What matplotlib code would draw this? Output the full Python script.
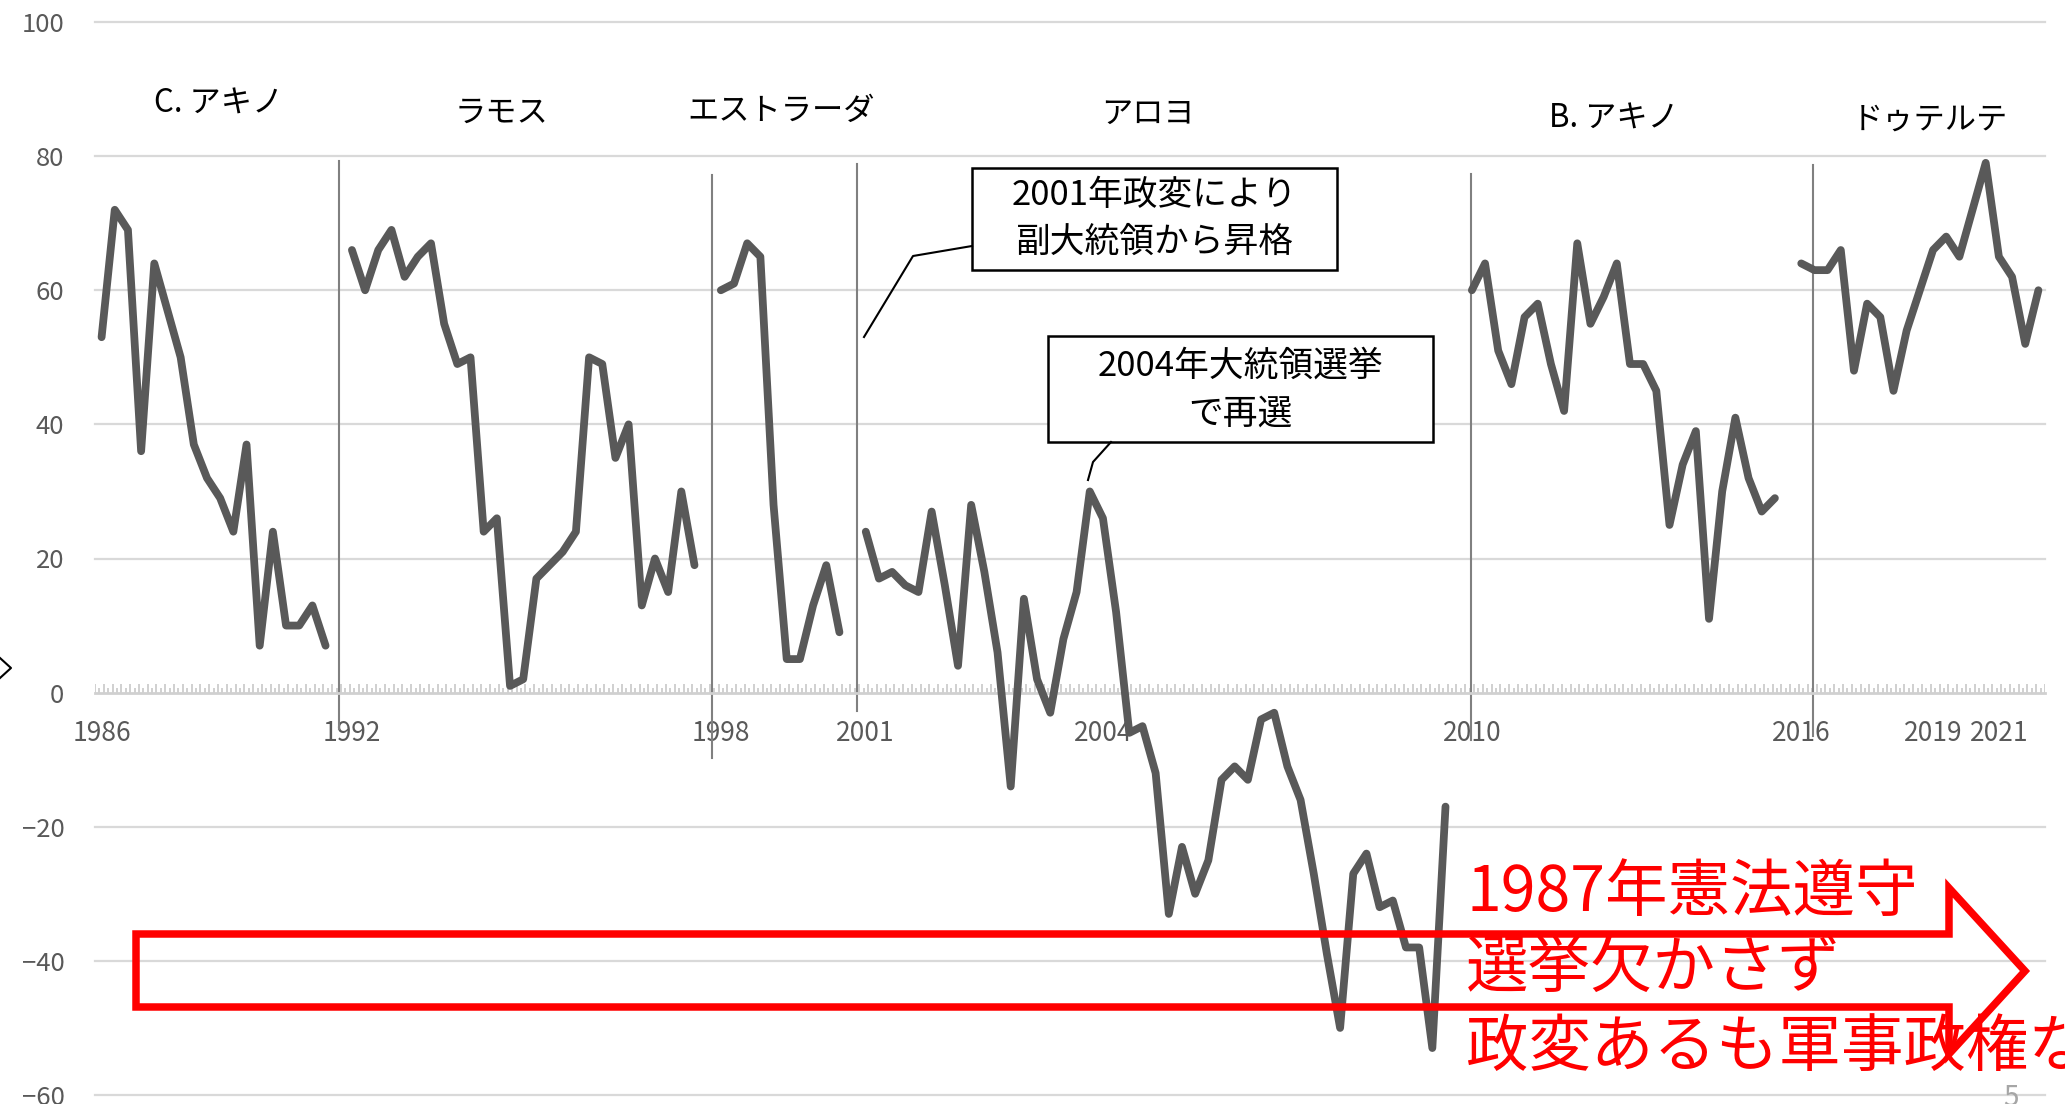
import numpy as np
import matplotlib.pyplot as plt
from matplotlib.patches import Rectangle, Polygon
from matplotlib.lines import Line2D

plt.rcParams['font.family'] = ['Noto Sans CJK JP', 'DejaVu Sans']

# net satisfaction per survey, one list per administration
c_aquino = [53, 72, 69, 36, 64, 57, 50, 37, 32, 29, 24, 37, 7, 24, 10, 10, 13, 7]
ramos = [66, 60, 66, 69, 62, 65, 67, 55, 49, 50, 24, 26, 1, 2, 17, 19, 21, 24,
         50, 49, 35, 40, 13, 20, 15, 30, 19]
estrada = [60, 61, 67, 65, 28, 5, 5, 13, 19, 9]
arroyo = [24, 17, 18, 16, 15, 27, 16, 4, 28, 18, 6, -14, 14, 2, -3, 8, 15, 30,
          26, 12, -6, -5, -12, -33, -23, -30, -25, -13, -11, -13, -4, -3, -11,
          -16, -27, -39, -50, -27, -24, -32, -31, -38, -38, -53, -17]
b_aquino = [60, 64, 51, 46, 56, 58, 49, 42, 67, 55, 59, 64, 49, 49, 45, 25, 34,
            39, 11, 30, 41, 32, 27, 29]
duterte = [64, 63, 63, 66, 48, 58, 56, 45, 54, 60, 66, 68, 65, 72, 79, 65, 62,
           52, 60]

series = [c_aquino, ramos, estrada, arroyo, b_aquino, duterte]
starts = [0, 19, 47, 58, 104, 129]
n_cats = 148

year_labels = ['1986', '1992', '1998', '2001', '2004', '2010', '2016', '2019', '2021']
year_cats = [0, 19, 47, 58, 76, 104, 129, 139, 144]

names = ['C. アキノ', 'ラモス', 'エストラーダ', 'アロヨ', 'B. アキノ', 'ドゥテルテ']

W, H = 2065, 1104
def fx(px):
    return px / W
def fy(py):
    return 1 - py / H

fig = plt.figure(figsize=(W / 100, H / 100), dpi=100)
ax = fig.add_axes([95 / W, 9 / H, 1950 / W, 1073 / H])
ax.set_xlim(-0.5, n_cats - 0.5)
ax.set_ylim(-60, 100)

for v in range(-60, 101, 20):
    if v != 0:
        ax.axhline(v, color='#d9d9d9', lw=1.6, zorder=0, clip_on=False)

for s in ['top', 'right', 'left']:
    ax.spines[s].set_visible(False)
ax.spines['bottom'].set_position(('data', 0))
ax.spines['bottom'].set_color('#d0d0d0')
ax.spines['bottom'].set_linewidth(2)

# small tick marks along the zero line
tx = -0.5 + np.arange(0, 3 * n_cats + 1) / 3
th = np.where(np.arange(len(tx)) % 2 == 0, 1.35, 0.75)
ax.vlines(tx, 0, th, color='#c8c8c8', lw=1.2, zorder=1)

ax.set_xticks(year_cats, year_labels)
ax.set_yticks(range(-60, 101, 20))
ax.tick_params(axis='x', length=0, pad=20, labelsize=19, labelcolor='#595959')
ax.tick_params(axis='y', length=0, pad=22, labelsize=18.5, labelcolor='#595959')

for vals, st in zip(series, starts):
    xs = np.arange(st, st + len(vals))
    ax.plot(xs, vals, color='#595959', lw=5.6, solid_joinstyle='round',
            solid_capstyle='round', zorder=3)

# term boundaries
bounds = [(18.0, -5.4, 79.2), (46.3, -9.8, 77.2), (57.3, -2.8, 78.9),
          (103.9, -7.1, 77.4), (129.9, -6.4, 78.7)]
for bx, y0, y1 in bounds:
    ax.plot([bx, bx], [y0, y1], color='#808080', lw=1.5, zorder=2, clip_on=False)

# administration names
name_pos = [(219, 104), (501, 113), (781, 111), (1148, 114), (1614, 119), (1930, 120)]
for nm, (px, py) in zip(names, name_pos):
    fig.text(fx(px), fy(py), nm, ha='center', va='center', fontsize=22.5, color='black')

# callout boxes
def callout(x0, y0, x1, y1, lines, line_y, leader):
    fig.add_artist(Rectangle((fx(x0), fy(y1)), (x1 - x0) / W, (y1 - y0) / H,
                             transform=fig.transFigure, facecolor='white',
                             edgecolor='black', lw=1.8, zorder=5))
    for t, ly in zip(lines, line_y):
        fig.text(fx((x0 + x1) / 2), fy(ly), t, ha='center', va='center',
                 fontsize=25, color='black', zorder=6)
    lx, ly = zip(*leader)
    fig.add_artist(Line2D([fx(p) for p in lx], [fy(p) for p in ly],
                          transform=fig.transFigure, color='black', lw=1.5, zorder=5))

callout(972, 168, 1337, 270, ['2001年政変により', '副大統領から昇格'], [196, 242],
        [(864, 337), (913, 256), (972, 246)])
callout(1048, 336, 1433, 442, ['2004年大統領選挙', 'で再選'], [366, 414],
        [(1111, 442), (1093, 462), (1088, 480)])

# red block arrow
arrow_px = [(136, 934), (1949, 934), (1949, 888), (2025, 971), (1949, 1054),
            (1949, 1007), (136, 1007)]
fig.add_artist(Polygon([(fx(a), fy(b)) for a, b in arrow_px], closed=True,
                       transform=fig.transFigure, fill=False, edgecolor='#ff0000',
                       lw=5.4, joinstyle='miter', zorder=7))

red_lines = ['1987年憲法遵守', '選挙欠かさず', '政変あるも軍事政権なし']
for t, ly in zip(red_lines, [893, 970, 1048]):
    fig.text(fx(1466), fy(ly), t, ha='left', va='center', fontsize=45,
             color='#ff0000', zorder=8)

# slide furniture
fig.add_artist(Line2D([fx(0), fx(11), fx(0)], [fy(658), fy(668), fy(678)],
                      transform=fig.transFigure, color='black', lw=1.5))
fig.text(fx(2011), fy(1098), '5', ha='center', va='center', fontsize=20,
         color='#a6a6a6')

fig.savefig('out.png', dpi=100)
